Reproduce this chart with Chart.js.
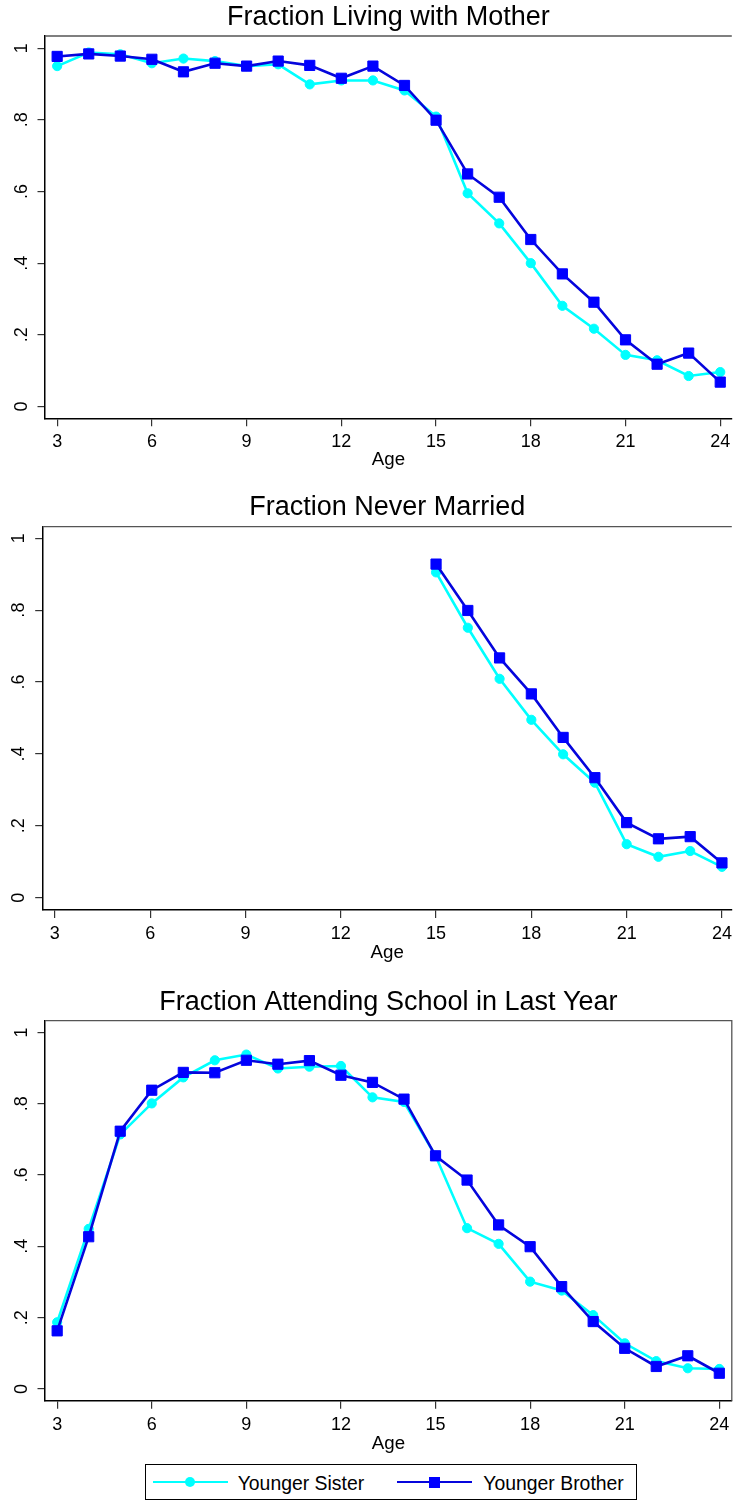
<!DOCTYPE html>
<html>
<head>
<meta charset="utf-8">
<script src="https://cdn.jsdelivr.net/npm/chart.js@4.4.1/dist/chart.umd.min.js"></script>
<style>
html,body{margin:0;padding:0;background:#fff;}
body{width:740px;height:1501px;position:relative;overflow:hidden;font-family:"Liberation Sans",Arial,sans-serif;}
canvas{position:absolute;left:0;}
#legend{position:absolute;left:145px;top:1464px;width:492px;height:36px;border:1px solid #000;box-sizing:border-box;background:#fff;}
#legend .ln{position:absolute;height:2.6px;top:15.9px;width:75px;}
#legend .mk{position:absolute;}
#legend .tx{position:absolute;top:1px;line-height:34px;font-size:19.4px;color:#000;white-space:nowrap;}
</style>
</head>
<body>
<canvas id="c1" width="740" height="472" style="top:0px"></canvas>
<canvas id="c2" width="740" height="476" style="top:488px"></canvas>
<canvas id="c3" width="740" height="476" style="top:980px"></canvas>
<div id="legend">
  <div class="ln" style="left:7px;background:#00ffff"></div>
  <div class="mk" style="left:39px;top:12.3px;width:10px;height:10px;border-radius:50%;background:#00ffff"></div>
  <div class="tx" id="lg0" style="left:91.7px"></div>
  <div class="ln" style="left:250.7px;background:#0505dc"></div>
  <div class="mk" style="left:282.5px;top:11.8px;width:11px;height:11px;background:#0000ff"></div>
  <div class="tx" id="lg1" style="left:337.3px"></div>
</div>
<script>
// ---------- data ----------
const ages = [3,4,5,6,7,8,9,10,11,12,13,14,15,16,17,18,19,20,21,22,23,24];
const ageTicks = [3,6,9,12,15,18,21,24];
const yTicks = [0,0.2,0.4,0.6,0.8,1];
const yTickLabels = ['0','.2','.4','.6','.8','1'];
const seriesNames = ['Younger Sister','Younger Brother'];
const titles = ['Fraction Living with Mother','Fraction Never Married','Fraction Attending School in Last Year'];
const xAxisTitle = 'Age';

const motherSister  = [0.950,0.988,0.983,0.958,0.971,0.964,0.950,0.955,0.899,0.910,0.910,0.882,0.809,0.595,0.511,0.400,0.281,0.217,0.144,0.129,0.085,0.096];
const motherBrother = [0.977,0.984,0.978,0.969,0.934,0.958,0.950,0.964,0.952,0.916,0.950,0.896,0.799,0.649,0.584,0.466,0.370,0.291,0.186,0.118,0.149,0.068];

const marriedAges    = [15,16,17,18,19,20,21,22,23,24];
const marriedSister  = [0.905,0.751,0.609,0.495,0.399,0.320,0.149,0.114,0.130,0.086];
const marriedBrother = [0.928,0.799,0.667,0.567,0.446,0.334,0.209,0.164,0.170,0.097];

const schoolSister  = [0.187,0.449,0.714,0.801,0.874,0.922,0.938,0.899,0.904,0.906,0.818,0.805,0.654,0.451,0.407,0.301,0.276,0.207,0.128,0.078,0.058,0.056];
const schoolBrother = [0.163,0.427,0.723,0.838,0.888,0.887,0.922,0.911,0.921,0.880,0.860,0.813,0.654,0.586,0.460,0.399,0.287,0.189,0.114,0.063,0.093,0.044];

// ---------- styling ----------
const FONT = "'Liberation Sans', Arial, Helvetica, sans-serif";
const CYAN = '#00ffff';
const BLUE = '#0000ff';
const BLUE_LINE = '#0505dc';
Chart.defaults.font.family = FONT;

document.getElementById('lg0').textContent = seriesNames[0];
document.getElementById('lg1').textContent = seriesNames[1];

const boxPlugin = {
  id: 'plotBox',
  beforeDatasetsDraw(chart, args, opts) {
    const a = chart.chartArea, ctx = chart.ctx;
    ctx.save();
    ctx.strokeStyle = '#555';
    ctx.lineWidth = 1.3;
    ctx.beginPath();
    ctx.moveTo(a.left, a.top);
    ctx.lineTo(a.right, a.top);
    if (opts.right) ctx.lineTo(a.right, a.bottom);
    ctx.stroke();
    ctx.restore();
  }
};

function makeChart(id, L) {
  const titleSize = 27, titleLH = titleSize * 1.2;
  const tickSize = 18, tickLH = tickSize * 1.2;
  const ageSize = 18.7, ageLH = ageSize * 1.2;
  const xTickLen = 8, yTickLen = 7.5;
  const H = L.H;
  const xH = H - L.plotBottom;
  const xPad = L.xTickMid - L.plotBottom - xTickLen - tickLH / 2;
  const agePadB = H - L.ageMid - ageLH / 2;
  const mk = (xs, ys) => xs.map((a, i) => ({x: a, y: ys[i]}));
  return new Chart(document.getElementById(id), {
    type: 'line',
    data: {
      datasets: [
        {label: seriesNames[0], data: mk(L.x, L.s), borderColor: CYAN, backgroundColor: CYAN,
         borderWidth: 2.6, pointStyle: 'circle', pointRadius: 4.6, pointBorderWidth: 1,
         pointBackgroundColor: CYAN, pointBorderColor: CYAN, tension: 0, order: 2},
        {label: seriesNames[1], data: mk(L.x, L.b), borderColor: BLUE_LINE, backgroundColor: BLUE,
         borderWidth: 2.6, pointStyle: 'rect', pointRadius: 7.2, pointBorderWidth: 1,
         pointBackgroundColor: BLUE, pointBorderColor: BLUE, tension: 0, order: 1}
      ]
    },
    options: {
      responsive: false, animation: false, devicePixelRatio: 1,
      layout: {padding: {left: 0, right: L.padRight, top: 0, bottom: 0}},
      plugins: {
        legend: {display: false},
        tooltip: {enabled: false},
        title: {display: true, text: L.title, color: '#000', fullSize: false,
                font: {family: FONT, size: titleSize, weight: 'normal', lineHeight: 1.2},
                padding: {top: L.titleMid - titleLH / 2, bottom: L.plotTop - L.titleMid - titleLH / 2}},
        plotBox: {right: L.rightBorder}
      },
      scales: {
        x: {
          type: 'linear', min: L.xMin, max: L.xMax,
          afterBuildTicks: s => { s.ticks = ageTicks.map(v => ({value: v})); },
          ticks: {font: {family: FONT, size: tickSize, lineHeight: 1.2}, color: '#000', padding: xPad,
                  autoSkip: false, maxRotation: 0, minRotation: 0, callback: v => String(v)},
          grid: {display: true, drawOnChartArea: false, drawTicks: true, tickLength: xTickLen, color: '#333', lineWidth: 1.2},
          border: {display: true, color: '#000', width: 1.5},
          title: {display: true, text: xAxisTitle, color: '#000',
                  font: {family: FONT, size: ageSize, lineHeight: 1.2}, padding: {top: 0, bottom: agePadB}},
          afterFit: s => { s.height = xH; s.paddingLeft = 0; s.paddingRight = 0; }
        },
        y: {
          type: 'linear', min: L.yMin, max: L.yMax,
          afterBuildTicks: s => { s.ticks = yTicks.map(v => ({value: v})); },
          ticks: {font: {family: FONT, size: tickSize, lineHeight: 1.2}, color: '#000', padding: L.yPad,
                  minRotation: 90, maxRotation: 90, crossAlign: 'center', autoSkip: false,
                  callback: v => { const i = yTicks.findIndex(t => Math.abs(t - v) < 1e-9); return i >= 0 ? yTickLabels[i] : ''; }},
          grid: {display: true, drawOnChartArea: false, drawTicks: true, tickLength: yTickLen, color: '#333', lineWidth: 1.2},
          border: {display: true, color: '#000', width: 1.5},
          afterFit: s => { s.width = L.yW; s.paddingTop = 0; s.paddingBottom = 0; }
        }
      }
    },
    plugins: [boxPlugin]
  });
}

makeChart('c1', {title: titles[0], x: ages, s: motherSister, b: motherBrother,
  H: 472, yW: 45, padRight: 0, titleMid: 17.5, plotTop: 36, plotBottom: 418.3,
  xTickMid: 442, ageMid: 460.2, xMin: 2.615, xMax: 24.366, yMin: -0.033, yMax: 1.034, yPad: 8.4, rightBorder: false});
makeChart('c2', {title: titles[1], x: marriedAges, s: marriedSister, b: marriedBrother,
  H: 476, yW: 42.7, padRight: 0, titleMid: 19.5, plotTop: 38.7, plotBottom: 422,
  xTickMid: 445.8, ageMid: 464.5, xMin: 2.617, xMax: 24.31, yMin: -0.034, yMax: 1.032, yPad: 8.4, rightBorder: false});
makeChart('c3', {title: titles[2], x: ages, s: schoolSister, b: schoolBrother,
  H: 476, yW: 45, padRight: 1.7, titleMid: 22.5, plotTop: 40.7, plotBottom: 420.7,
  xTickMid: 445.5, ageMid: 463.5, xMin: 2.614, xMax: 24.396, yMin: -0.033, yMax: 1.033, yPad: 8.4, rightBorder: true});
</script>
</body>
</html>
